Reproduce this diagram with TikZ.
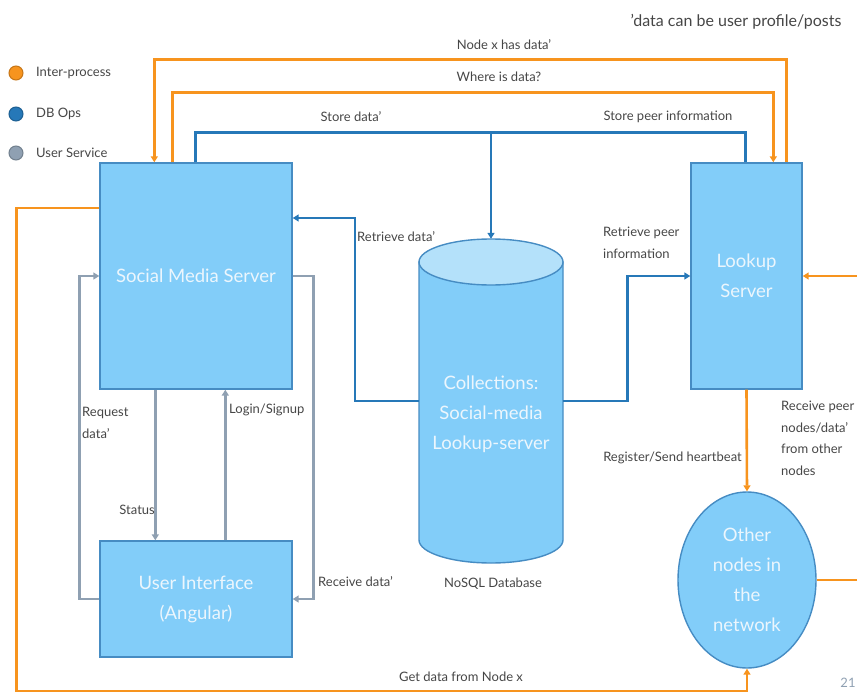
\documentclass[tikz,border=0pt]{standalone}
\usepackage{fontspec}
\setmainfont{Lato}
\usetikzlibrary{arrows.meta,shapes.geometric}
\definecolor{boxfill}{RGB}{130,205,249}
\definecolor{boxborder}{RGB}{70,140,195}
\definecolor{cyltop}{RGB}{180,225,250}
\definecolor{ipc}{RGB}{247,148,30}
\definecolor{dbc}{RGB}{38,120,184}
\definecolor{usc}{RGB}{143,160,178}
\definecolor{intext}{RGB}{236,246,253}
\definecolor{labtext}{RGB}{70,70,70}
\tikzset{
  box/.style={draw=boxborder, line width=1.4pt, fill=boxfill, inner sep=0pt, align=center,
    text=intext, font=\fontsize{18.5}{30}\selectfont},
  tip/.style={-{Triangle[length=6pt,width=7pt]}},
  ipline/.style={draw=ipc, line width=2.6pt},
  dbline/.style={draw=dbc, line width=2.6pt},
  usline/.style={draw=usc, line width=2.6pt},
  lab/.style={text=labtext, font=\fontsize{13}{21.5}\selectfont, inner sep=0pt, align=left},
  legdot/.style={circle, minimum size=14pt, inner sep=0pt, line width=1pt},
}
\begin{document}
\begin{tikzpicture}[x=1pt,y=-1pt]
\useasboundingbox (0,0) rectangle (857,693);
\clip (0,0) rectangle (857,693);
% boxes
\node[box, minimum width=192pt, minimum height=226pt] (sms) at (196,276) {Social Media Server};
\node[box, minimum width=192pt, minimum height=116pt] (ui) at (196,599) {User Interface\\(Angular)};
\node[box, minimum width=111pt, minimum height=226pt] (lookup) at (746.5,276) {Lookup\\Server};
\node[box, ellipse, minimum width=138pt, minimum height=176pt] (other) at (747,580) {Other\\nodes in\\the\\network};
% cylinder
\path[draw=boxborder, line width=1.4pt, fill=boxfill] (419,262) -- (419,540)
  arc[start angle=180, end angle=360, x radius=72pt, y radius=23pt] -- (563,262) -- cycle;
\draw[boxborder, line width=1.4pt, fill=cyltop] (491,262) ellipse [x radius=72pt, y radius=23pt];
\node[minimum width=144pt, minimum height=324pt, inner sep=0pt] (db) at (491,401) {};
\node[align=center, text=intext, font=\fontsize{18.5}{30}\selectfont, inner sep=0pt] (dbtext) at (491,414) {Collections:\\Social-media\\Lookup-server};
% orange inter-process
\draw[ipline, tip] ([xshift=96pt]lookup.north west) -- ++(0,-103) -| ([xshift=55pt]sms.north west);
\draw[ipline, tip] ([xshift=73pt]sms.north west) -- ++(0,-70) -| ([xshift=83pt]lookup.north west);
\draw[ipline, tip] ([yshift=68pt]sms.west) -- ++(-83,0) -- ++(0,483) -| (other.south);
\draw[ipline, tip] (lookup.south) -- (other.north);
\draw[ipline, tip] (other.east) -- ++(50,0) |- (lookup.east);
% blue db ops
\draw[dbline] ([xshift=96pt]sms.north west) -- ++(0,-30) -| ([xshift=55pt]lookup.north west);
\coordinate (br) at (491,133);
\draw[dbline, tip] (br) -- (db.north);
\draw[dbline, tip] (db.west) -- ++(-64,0) |- ([yshift=58pt]sms.east);
\draw[dbline, tip] (db.east) -- ++(64,0) |- (lookup.west);
% gray user service
\draw[usline, tip] (ui.west) -- ++(-20,0) |- (sms.west);
\draw[usline, tip] (sms.east) -- ++(21,0) |- (ui.east);
\draw[usline, tip] ([xshift=56pt]sms.south west) -- ([xshift=56pt]ui.north west);
\draw[usline, tip] ([xshift=126pt]ui.north west) -- ([xshift=126pt]sms.south west);
% labels
\node[lab] (l1) at (504,45) {Node x has data'};
\node[lab] (l2) at (499,77) {Where is data?};
\node[lab] (l3) at (351,117) {Store data'};
\node[lab] (l4) at (668,117) {Store peer information};
\node[lab, anchor=west] (l5) at (357,237) {Retrieve data'};
\node[lab, anchor=north west] (l6) at (603,227) {Retrieve peer\\information};
\node[lab, anchor=north west] (l7) at (82,407) {Request\\data'};
\node[lab, anchor=west] (l8) at (229,410) {Login/Signup};
\node[lab, anchor=east] (l9) at (155,510) {Status};
\node[lab, anchor=west] (l10) at (318,582) {Receive data'};
\node[lab] (l11) at (493,584) {NoSQL Database};
\node[lab, anchor=east] (l12) at (742,458) {Register/Send heartbeat};
\node[lab, anchor=north west] (l13) at (781,401) {Receive peer\\nodes/data'\\from other\\nodes};
\node[lab] (l14) at (461,677) {Get data from Node x};
\node[lab, font=\fontsize{16}{18}\selectfont] (note) at (736,22) {'data can be user profile/posts};
\node[lab, text=usc] (pg) at (848,683) {21};
% legend
\node[legdot, fill=ipc, draw=ipc!80!black] (g1) at (16,73) {};
\node[legdot, fill=dbc, draw=dbc!80!black] (g2) at (16,114) {};
\node[legdot, fill=usc, draw=usc!80!black] (g3) at (16,153) {};
\node[lab, anchor=west] (t1) at (36,73) {Inter-process};
\node[lab, anchor=west] (t2) at (36,114) {DB Ops};
\node[lab, anchor=west] (t3) at (36,153) {User Service};
\end{tikzpicture}
\end{document}
